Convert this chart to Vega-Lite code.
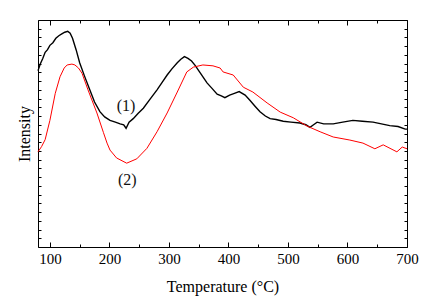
{
  "$schema": "https://vega.github.io/schema/vega-lite/v6.json",
  "width": 369,
  "height": 227,
  "autosize": "none",
  "padding": {"left": 38, "top": 20, "right": 20, "bottom": 49},
  "background": "white",
  "config": {
    "view": {"stroke": null},
    "axis": {
      "domainColor": "black",
      "tickColor": "black",
      "grid": false,
      "labelFont": "Liberation Serif",
      "titleFont": "Liberation Serif",
      "labelFontSize": 15,
      "titleFontSize": 16,
      "titleFontWeight": "normal",
      "labelColor": "black",
      "titleColor": "black"
    }
  },
  "datasets": {
    "s1": [
      {"T": 80, "I": 20.2}, {"T": 84, "I": 21.0}, {"T": 88, "I": 21.6}, {"T": 92, "I": 22.3}, {"T": 96, "I": 22.6},
      {"T": 100, "I": 23.1}, {"T": 105, "I": 23.4}, {"T": 110, "I": 23.9}, {"T": 115, "I": 24.2}, {"T": 120, "I": 24.4},
      {"T": 125, "I": 24.6}, {"T": 130, "I": 24.7}, {"T": 134, "I": 24.5}, {"T": 138, "I": 23.9}, {"T": 144, "I": 22.6},
      {"T": 150, "I": 21.1}, {"T": 158, "I": 19.6}, {"T": 167, "I": 18.0}, {"T": 175, "I": 16.6}, {"T": 184, "I": 15.5},
      {"T": 192, "I": 14.9}, {"T": 201, "I": 14.5}, {"T": 210, "I": 14.3}, {"T": 218, "I": 14.1}, {"T": 224, "I": 14.0},
      {"T": 228, "I": 13.6}, {"T": 233, "I": 14.3}, {"T": 240, "I": 14.7}, {"T": 248, "I": 15.3}, {"T": 257, "I": 15.9},
      {"T": 268, "I": 16.9}, {"T": 280, "I": 18.0}, {"T": 290, "I": 19.0}, {"T": 297, "I": 19.7}, {"T": 305, "I": 20.4},
      {"T": 314, "I": 21.1}, {"T": 320, "I": 21.5}, {"T": 326, "I": 21.8}, {"T": 332, "I": 21.6}, {"T": 338, "I": 21.3},
      {"T": 344, "I": 20.8}, {"T": 352, "I": 20.0}, {"T": 358, "I": 19.4}, {"T": 364, "I": 18.8}, {"T": 372, "I": 18.2},
      {"T": 381, "I": 17.5}, {"T": 388, "I": 17.3}, {"T": 394, "I": 17.1}, {"T": 402, "I": 17.4}, {"T": 410, "I": 17.6},
      {"T": 418, "I": 17.8}, {"T": 428, "I": 17.4}, {"T": 436, "I": 16.8}, {"T": 445, "I": 16.1}, {"T": 453, "I": 15.5},
      {"T": 462, "I": 15.0}, {"T": 470, "I": 14.7}, {"T": 480, "I": 14.6}, {"T": 492, "I": 14.4}, {"T": 505, "I": 14.3},
      {"T": 520, "I": 14.2}, {"T": 530, "I": 14.0}, {"T": 537, "I": 13.7}, {"T": 543, "I": 14.0}, {"T": 549, "I": 14.3},
      {"T": 560, "I": 14.1}, {"T": 576, "I": 14.1}, {"T": 592, "I": 14.3}, {"T": 609, "I": 14.5}, {"T": 625, "I": 14.4},
      {"T": 643, "I": 14.3}, {"T": 657, "I": 14.1}, {"T": 671, "I": 13.9}, {"T": 685, "I": 13.8}, {"T": 697, "I": 13.5},
      {"T": 700, "I": 13.5}
    ],
    "s2": [
      {"T": 80, "I": 10.9}, {"T": 86, "I": 11.5}, {"T": 92, "I": 12.3}, {"T": 100, "I": 14.5}, {"T": 109, "I": 17.6},
      {"T": 117, "I": 19.5}, {"T": 124, "I": 20.5}, {"T": 129, "I": 20.85}, {"T": 137, "I": 20.95}, {"T": 142, "I": 20.85},
      {"T": 148, "I": 20.5}, {"T": 154, "I": 19.9}, {"T": 164, "I": 18.0}, {"T": 179, "I": 15.35}, {"T": 190, "I": 13.1},
      {"T": 196, "I": 11.9}, {"T": 201, "I": 11.1}, {"T": 212, "I": 10.2}, {"T": 229, "I": 9.6}, {"T": 246, "I": 10.1},
      {"T": 263, "I": 11.3}, {"T": 280, "I": 13.2}, {"T": 297, "I": 15.35}, {"T": 314, "I": 17.75}, {"T": 330, "I": 20.05},
      {"T": 341, "I": 20.6}, {"T": 357, "I": 20.85}, {"T": 374, "I": 20.75}, {"T": 386, "I": 20.5}, {"T": 391, "I": 20.05},
      {"T": 408, "I": 19.7}, {"T": 425, "I": 18.3}, {"T": 441, "I": 17.75}, {"T": 465, "I": 16.5}, {"T": 487, "I": 15.45},
      {"T": 509, "I": 14.8}, {"T": 532, "I": 13.85}, {"T": 554, "I": 13.2}, {"T": 576, "I": 12.6}, {"T": 604, "I": 12.25},
      {"T": 626, "I": 11.9}, {"T": 646, "I": 11.25}, {"T": 660, "I": 11.7}, {"T": 683, "I": 10.9}, {"T": 692, "I": 11.45},
      {"T": 700, "I": 11.25}
    ],
    "lab": [
      {"T": 228, "I": 16.1, "t": "(1)"},
      {"T": 230, "I": 7.7, "t": "(2)"}
    ]
  },
  "layer": [
    {
      "data": {"name": "s1"},
      "mark": {"type": "line", "color": "black", "strokeWidth": 1.4},
      "encoding": {
        "x": {
          "field": "T", "type": "quantitative",
          "scale": {"domain": [80, 700], "nice": false, "zero": false},
          "axis": {
            "orient": "bottom",
            "values": [100, 150, 200, 250, 300, 350, 400, 450, 500, 550, 600, 650, 700],
            "tickSize": {"condition": {"test": "datum.value % 100 === 0", "value": -5}, "value": -3},
            "labelExpr": "datum.value % 100 === 0 ? datum.label : ''",
            "labelPadding": 9,
            "labelFlush": false,
            "title": "Temperature (°C)",
            "titlePadding": 12
          }
        },
        "y": {
          "field": "I", "type": "quantitative",
          "scale": {"domain": [0, 26], "nice": false, "zero": false},
          "axis": {
            "orient": "left",
            "values": [0,1,2,3,4,5,6,7,8,9,10,11,12,13,14,15,16,17,18,19,20,21,22,23,24,25,26],
            "tickSize": -3,
            "labels": false,
            "title": "Intensity",
            "titlePadding": 5
          }
        }
      }
    },
    {
      "data": {"name": "s2"},
      "mark": {"type": "line", "color": "#ff0000", "strokeWidth": 1},
      "encoding": {
        "x": {
          "field": "T", "type": "quantitative",
          "axis": {
            "orient": "top",
            "values": [100, 150, 200, 250, 300, 350, 400, 450, 500, 550, 600, 650, 700],
            "tickSize": {"condition": {"test": "datum.value % 100 === 0", "value": -5}, "value": -3},
            "labels": false,
            "title": null
          }
        },
        "y": {
          "field": "I", "type": "quantitative",
          "axis": {
            "orient": "right",
            "values": [0,1,2,3,4,5,6,7,8,9,10,11,12,13,14,15,16,17,18,19,20,21,22,23,24,25,26],
            "tickSize": -3,
            "labels": false,
            "title": null
          }
        }
      }
    },
    {
      "data": {"name": "lab"},
      "mark": {"type": "text", "font": "Liberation Serif", "fontSize": 16, "color": "#111"},
      "encoding": {
        "x": {"field": "T", "type": "quantitative", "axis": null},
        "y": {"field": "I", "type": "quantitative", "axis": null},
        "text": {"field": "t"}
      }
    }
  ],
  "resolve": {"axis": {"x": "independent", "y": "independent"}}
}
